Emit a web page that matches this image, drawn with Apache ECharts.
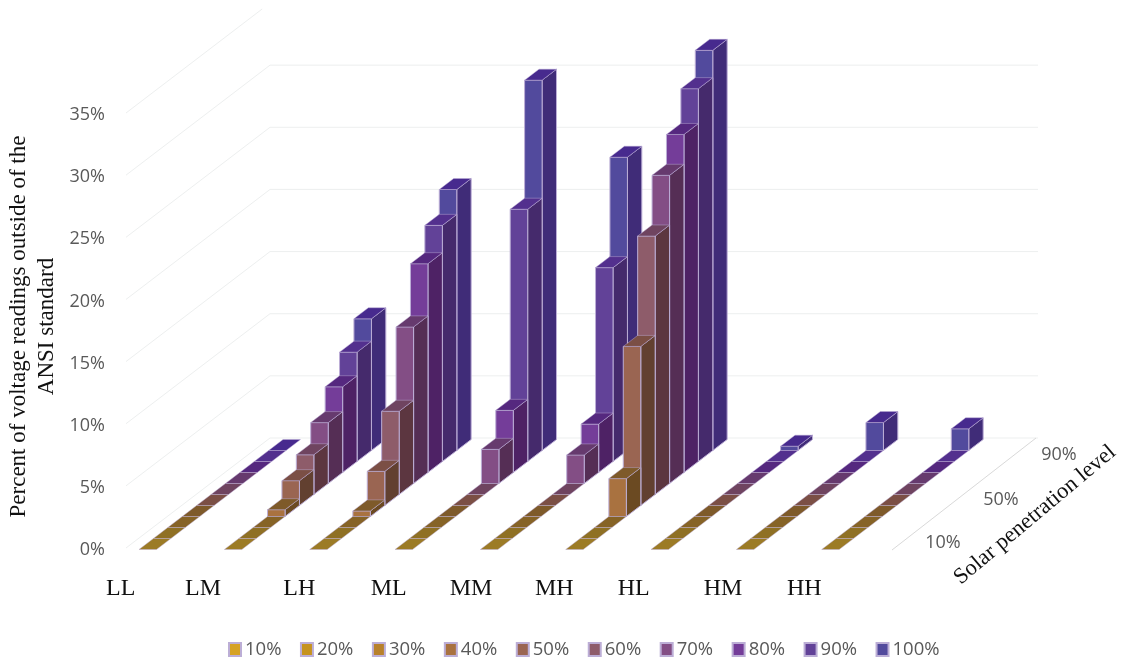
<!DOCTYPE html>
<html>
<head>
<meta charset="utf-8">
<style>html,body{margin:0;padding:0;background:#fff}#c{width:1122px;height:660px}</style>
<script src="https://cdn.jsdelivr.net/npm/echarts@6/dist/echarts.min.js"></script>
</head>
<body>
<div id="c"></div>
<script>
const categories = ['LL','LM','LH','ML','MM','MH','HL','HM','HH'];
const levels = ['10%','20%','30%','40%','50%','60%','70%','80%','90%','100%'];
const pen10  = [0,0,0,0,0,0,0,0,0];
const pen20  = [0,0,0,0,0,0,0,0,0];
const pen30  = [0,0,0,0,0,0,0,0,0];
const pen40  = [0,0.55,0.45,0,0,3.05,0,0,0];
const pen50  = [0,2.0,2.75,0,0,12.8,0,0,0];
const pen60  = [0,3.2,6.7,0,0,20.8,0,0,0];
const pen70  = [0,4.9,12.6,2.75,2.3,24.8,0,0,0];
const pen80  = [0,6.9,16.8,5,3.9,27.2,0,0,0];
const pen90  = [0,8.8,19,20.3,15.6,30,0,0,0];
const pen100 = [0,10.6,21,29.8,23.6,32.2,0.35,2.25,1.75];
const values = [pen10,pen20,pen30,pen40,pen50,pen60,pen70,pen80,pen90,pen100];
const gridLevels = [0,5,10,15,20,25,30,35];
const frontColors = ['#D6A224','#C6931F','#B8812B','#A97240','#9A6552','#8E5C6A','#834E85','#743D99','#624298','#524A9D'];
const topColors   = ['#9C7B26','#8F7024','#866326','#7E5A2A','#7B4F45','#6F4460','#663A6E','#55287F','#53308E','#472A8E'];
const sideColors  = ['#7A5E1E','#735A1C','#6E5220','#6B4A22','#624030','#5C3640','#552E55','#4E2265','#452A6C','#402C78'];
const labelShift = [27,30,19,15,18,20,26,22,26];

const DX = 14.4, DY = 11, FW = 17.5, EDGE = '#BCAED6', EDGE_SOFT = 'rgba(188,174,214,0.45)';

function barRenderer(depth) {
  return function (params, api) {
    const cat = api.value(0), v = api.value(1);
    const band = api.size([1, 0])[0];
    const c0 = api.coord([cat, 0]);
    const cT = api.coord([cat, v]);
    const x = c0[0] - band / 2 + 34 + DX * depth;
    const yb = c0[1] + 1.5 - DY * depth;
    const yt = cT[1] + 1.5 - DY * depth;
    const st = { stroke: EDGE, lineWidth: 1 };
    const kids = [];
    if (v > 0) {
      kids.push({ type: 'polygon', shape: { points: [[x + FW, yb], [x + FW + DX, yb - DY], [x + FW + DX, yt - DY], [x + FW, yt]] },
        style: Object.assign({ fill: sideColors[depth] }, st) });
      kids.push({ type: 'rect', shape: { x: x, y: yt, width: FW, height: yb - yt },
        style: Object.assign({ fill: frontColors[depth] }, st) });
    }
    kids.push({ type: 'polygon', shape: { points: [[x, yt], [x + FW, yt], [x + FW + DX, yt - DY], [x + DX, yt - DY]] },
      style: { fill: topColors[depth], stroke: EDGE_SOFT, lineWidth: 1 } });
    return { type: 'group', children: kids };
  };
}

function gridRenderer(params, api) {
  const v = api.value(0);
  const p = api.coord([0, v]);
  const xl = 126, py = p[1];
  const t = Math.min(1, (py - 9) / 110);
  const kids = [{ type: 'line', shape: { x1: xl, y1: py, x2: xl + 144 * t, y2: py - 110 * t },
    style: { stroke: '#EDEFEF', lineWidth: 1 } }];
  if (t === 1) kids.push({ type: 'line', shape: { x1: xl + 144, y1: py - 110, x2: 1038, y2: py - 110 },
    style: { stroke: '#EDEFEF', lineWidth: 1 } });
  return { type: 'group', children: kids };
}

function floorRenderer(params, api) {
  const p = api.coord([0, 0]);
  return { type: 'line', shape: { x1: 892, y1: p[1] + 2, x2: 1036, y2: p[1] - 110 },
    style: { stroke: '#D9D9D9', lineWidth: 1 } };
}

const seriesList = [
  { type: 'custom', name: 'wall', silent: true, renderItem: gridRenderer, coordinateSystem: 'cartesian2d',
    data: gridLevels.map(v => [v]), encode: { y: 0 } , z: 1},
  { type: 'custom', name: 'floor', silent: true, renderItem: floorRenderer, data: [[0, 0]], encode: { x: 0, y: 1 }, z: 1 }
];
for (let d = levels.length - 1; d >= 0; d--) {
  seriesList.push({
    type: 'custom', name: levels[d], renderItem: barRenderer(d), z: 2,
    itemStyle: { color: frontColors[d], borderColor: EDGE, borderWidth: 1 },
    encode: { x: 0, y: 1 },
    data: values[d].map((v, i) => [i, v])
  });
}

const rich = {};
categories.forEach((c, i) => { rich['c' + i] = { padding: [0, labelShift[i] * 2, 0, 0], fontFamily: 'Liberation Serif', fontSize: 24, color: '#111' }; });

const SERIF = 'Liberation Serif', SANS = 'Open Sans', GREY = '#595959';
const chart = echarts.init(document.getElementById('c'), null, { renderer: 'canvas' });
chart.setOption({
  animation: false,
  backgroundColor: '#fff',
  grid: { left: 105, width: 768, top: 113, height: 435, containLabel: false, outerBoundsMode: 'none' },
  xAxis: {
    type: 'category', data: categories,
    axisLine: { show: false }, axisTick: { show: false }, splitLine: { show: false },
    axisLabel: { interval: 0, margin: 29, formatter: (val, i) => '{c' + i + '|' + val + '}', rich: rich, hideOverlap: false }
  },
  yAxis: {
    type: 'value', min: 0, max: 35, interval: 5,
    axisLine: { show: false }, axisTick: { show: false }, splitLine: { show: false },
    axisLabel: { margin: 0, formatter: '{t|{value}%}',
      rich: { t: { padding: [4, 0, 0, 0], color: GREY, fontFamily: SANS, fontSize: 18 } } },
    name: 'Percent of voltage readings outside of the\nANSI standard',
    nameLocation: 'middle', nameRotate: 90, nameGap: 44, nameMoveOverlap: false,
    nameTextStyle: { fontFamily: SERIF, fontSize: 23, color: '#111', lineHeight: 28, padding: [0, 0, 0, 8] }
  },
  legend: {
    data: levels, left: 223, top: 635, itemWidth: 12, itemHeight: 13, itemGap: 18.5, icon: 'rect',
    textStyle: { color: GREY, fontFamily: SANS, fontSize: 18.5, padding: [0, 0, 0, -1] },
    selectedMode: false
  },
  graphic: [
    { type: 'text', x: 943, y: 543, style: { text: '10%', font: '18px "Open Sans"', fill: GREY, textAlign: 'center', textVerticalAlign: 'middle' } },
    { type: 'text', x: 1001, y: 500, style: { text: '50%', font: '18px "Open Sans"', fill: GREY, textAlign: 'center', textVerticalAlign: 'middle' } },
    { type: 'text', x: 1059, y: 455, style: { text: '90%', font: '18px "Open Sans"', fill: GREY, textAlign: 'center', textVerticalAlign: 'middle' } },
    { type: 'text', x: 1035, y: 515, rotation: 40 * Math.PI / 180, style: { text: 'Solar penetration level', font: '22.5px "Liberation Serif"', fill: '#111', textAlign: 'center', textVerticalAlign: 'middle' } }
  ],
  series: seriesList
});
</script>
</body>
</html>
